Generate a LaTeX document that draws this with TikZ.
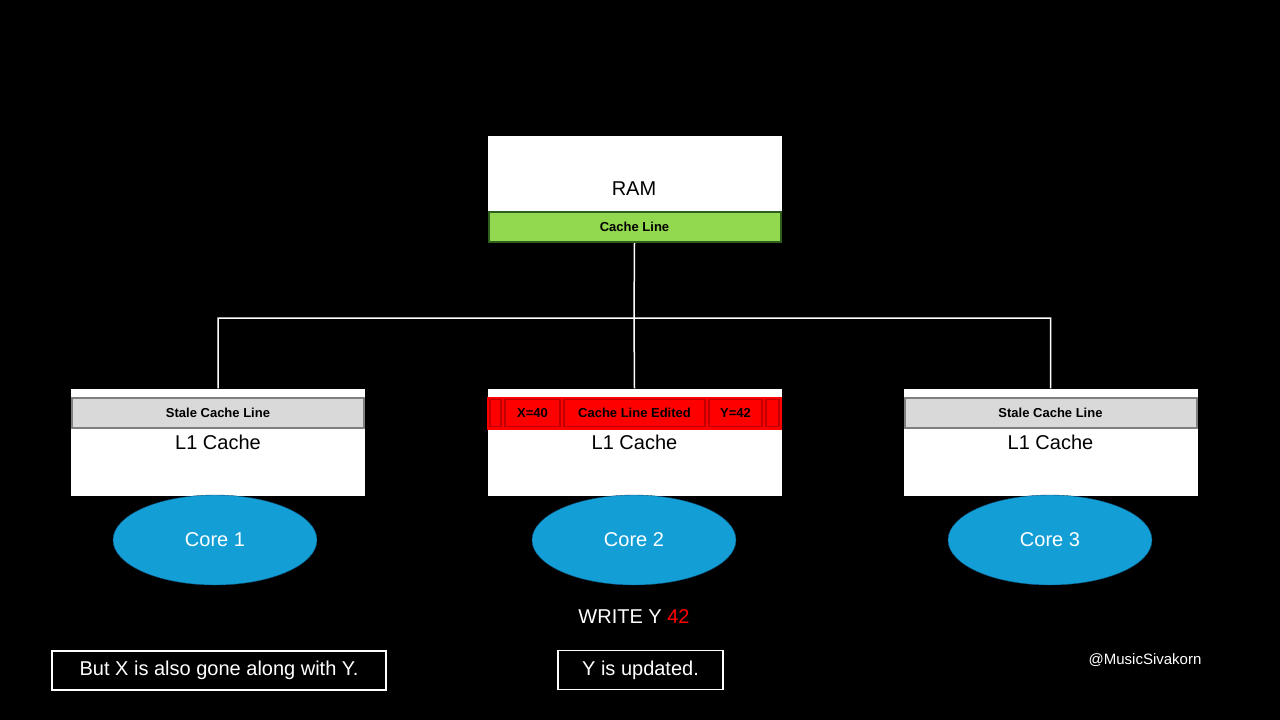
\documentclass[tikz,border=0pt]{standalone}
\usepackage{fontspec}
\setmainfont{Liberation Sans}
\usetikzlibrary{positioning,shapes.geometric}
\definecolor{linegreen}{HTML}{92D950}
\definecolor{darkgreen}{HTML}{2E5E1E}
\definecolor{stalegray}{HTML}{D9D9D9}
\definecolor{edgegray}{HTML}{7F7F7F}
\definecolor{corefill}{HTML}{139FD6}
\definecolor{coreedge}{HTML}{0E4F7A}
\definecolor{editred}{HTML}{FF0000}
\definecolor{editedge}{HTML}{C00000}
\begin{document}
\begin{tikzpicture}[x=1pt,y=-1pt,
box/.style={rectangle,fill=white,minimum width=294pt,minimum height=107pt,inner sep=0pt},
line/.style={rectangle,draw=#1,line width=2pt,minimum width=292pt,minimum height=30pt,inner sep=0pt,font=\fontsize{13}{15}\selectfont\bfseries},
cell/.style={rectangle,draw=editedge,line width=1.2pt,fill=editred,minimum height=27pt,inner sep=0pt,font=\fontsize{13}{15}\selectfont\bfseries},
core/.style={ellipse,draw=coreedge,fill=corefill,minimum width=204pt,minimum height=90pt,text=white,font=\fontsize{20}{24}\selectfont},
big/.style={font=\fontsize{20}{24}\selectfont},
note/.style={rectangle,draw=white,line width=1.5pt,text=white,inner sep=0pt,minimum height=39pt,font=\fontsize{20}{24}\selectfont}
]
\fill[black] (0,0) rectangle (1280,720);
\useasboundingbox (0,0) rectangle (1280,720);
% RAM
\node (ram) [box] at (634.5,189) {};
\node (ramtxt) [big] at (634,189) {RAM};
\node (ramline) [line=darkgreen,fill=linegreen] at (634.5,227) {Cache Line};
% L1 caches
\node (l1a) [box] at (218,442) {};
\node (l1b) [box] at (634.5,442) {};
\node (l1c) [box] at (1050.5,442) {};
\node (sa) [line=edgegray,fill=stalegray] at (218,413) {Stale Cache Line};
\node (sc) [line=edgegray,fill=stalegray] at (1050.5,413) {Stale Cache Line};
\node (sb) [rectangle,fill=editred,draw=editred,minimum width=294pt,minimum height=32pt,inner sep=0pt] at (634.5,413) {};
\node (c1) [cell,minimum width=11pt] at (495.5,413) {};
\node (c2) [cell,minimum width=55pt] at (532.5,413) {X=40};
\node (c3) [cell,minimum width=141pt] at (634.5,413) {Cache Line Edited};
\node (c4) [cell,minimum width=53pt] at (735.5,413) {Y=42};
\node (c5) [cell,minimum width=13pt] at (772.5,413) {};
\foreach \n in {l1a,l1b,l1c} \node [big] at (\n.center) {L1 Cache};
% wiring
\coordinate (bus) at (634,318);
\draw[white,line width=1.5pt] (ramline.south) -- (bus) -- (l1b.north)
  (l1a.north) |- (bus) (l1c.north) |- (bus);
% cores
\node (core1) [core] at (215,540) {Core 1};
\node (core2) [core] at (634,540) {Core 2};
\node (core3) [core] at (1050,540) {Core 3};
\node (write) [big,text=white] at (634,617) {WRITE Y \textcolor{editred}{42}};
\node (noteX) [note,minimum width=334pt] at (219,670.5) {But X is also gone along with Y.};
\node (noteY) [note,minimum width=165pt] at (640.5,670) {Y is updated.};
\node (handle) [text=white,font=\fontsize{15}{18}\selectfont] at (1145,660) {@MusicSivakorn};
\end{tikzpicture}
\end{document}
